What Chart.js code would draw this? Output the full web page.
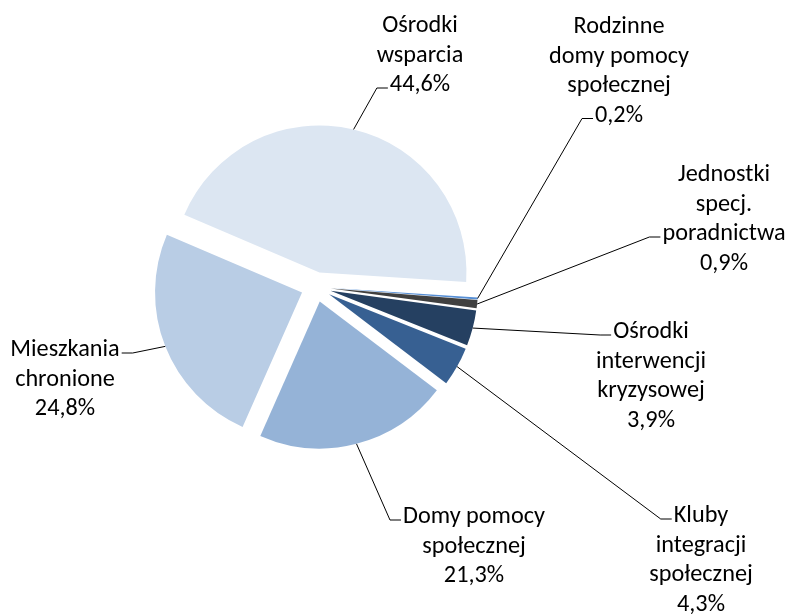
<!DOCTYPE html>
<html><head><meta charset="utf-8">
<script src="https://cdn.jsdelivr.net/npm/chart.js@4"></script>
<style>html,body{margin:0;padding:0;background:#fff;} canvas{display:block;}</style>
</head><body>
<canvas id="c" width="788" height="614"></canvas>
<script>
// ---- data ----
const categories = [
  ['Rodzinne', 'domy pomocy', 'społecznej'],
  ['Jednostki', 'specj.', 'poradnictwa'],
  ['Ośrodki', 'interwencji', 'kryzysowej'],
  ['Kluby', 'integracji', 'społecznej'],
  ['Domy pomocy', 'społecznej'],
  ['Mieszkania', 'chronione'],
  ['Ośrodki', 'wsparcia']
];
const shares = [0.2, 0.9, 3.9, 4.3, 21.3, 24.8, 44.6];
const colors = ['#558ED5', '#404040', '#254061', '#376092', '#95B3D7', '#B9CDE5', '#DCE6F2'];

// ---- layout (label blocks: centre x, first baseline, line the leader attaches to, side) ----
const labelLayout = [
  {cx: 619, by: 33,  attach: 3, side: 'left'},
  {cx: 724, by: 181, attach: 2, side: 'left'},
  {cx: 651, by: 338, attach: 0, side: 'left'},
  {cx: 701, by: 522, attach: 0, side: 'left'},
  {cx: 474, by: 523, attach: 0, side: 'left'},
  {cx: 65,  by: 356, attach: 0, side: 'right'},
  {cx: 420, by: 32,  attach: 2, side: 'left'}
];
const EXPLODE = 15;
const LINE_H = 29.5;
const ELBOW = 11;
const FAMILY = "Carlito, Calibri, Lato, 'Open Sans', sans-serif";
const mctx = document.createElement('canvas').getContext('2d');
mctx.font = '24px ' + FAMILY;
const FONT_SIZE = 24 * 142 / mctx.measureText('Domy pomocy').width;
const FONT = FONT_SIZE.toFixed(2) + 'px ' + FAMILY;

const fmt = v => v.toFixed(1).replace('.', ',') + '%';

function shiftArcs(chart, dir) {
  chart.getDatasetMeta(0).data.forEach(arc => {
    const mid = (arc.startAngle + arc.endAngle) / 2;
    arc.x += dir * Math.cos(mid) * EXPLODE;
    arc.y += dir * Math.sin(mid) * EXPLODE;
  });
}

const explodeAndLabel = {
  id: 'explodeAndLabel',
  beforeDatasetsDraw(chart) { shiftArcs(chart, 1); },
  afterDatasetsDraw(chart) {
    const ctx = chart.ctx;
    const meta = chart.getDatasetMeta(0);
    ctx.save();
    ctx.font = FONT;
    ctx.fillStyle = '#000';
    ctx.strokeStyle = '#000';
    ctx.lineWidth = 1;
    ctx.textAlign = 'center';
    ctx.textBaseline = 'alphabetic';
    meta.data.forEach((arc, i) => {
      const lines = categories[i].concat([fmt(shares[i])]);
      const L = labelLayout[i];
      lines.forEach((t, k) => ctx.fillText(t, L.cx, L.by + k * LINE_H));
      const mid = (arc.startAngle + arc.endAngle) / 2;
      const sx = arc.x + Math.cos(mid) * arc.outerRadius;
      const sy = arc.y + Math.sin(mid) * arc.outerRadius;
      const w = ctx.measureText(lines[L.attach]).width;
      const ey = L.by + L.attach * LINE_H - 3;
      const ex = L.side === 'left' ? L.cx - w / 2 - 2 : L.cx + w / 2 + 2;
      const bx = L.side === 'left' ? ex - ELBOW : ex + ELBOW;
      ctx.beginPath();
      ctx.moveTo(sx, sy);
      ctx.lineTo(bx, ey);
      ctx.lineTo(ex, ey);
      ctx.stroke();
    });
    ctx.restore();
    shiftArcs(chart, -1);
  }
};

new Chart(document.getElementById('c'), {
  type: 'pie',
  data: {
    labels: categories,
    datasets: [{data: shares, backgroundColor: colors, borderWidth: 0}]
  },
  options: {
    responsive: false,
    animation: false,
    rotation: 93.7,
    radius: 147,
    layout: {padding: {left: 0, right: 156, top: 0, bottom: 40}},
    plugins: {legend: {display: false}, tooltip: {enabled: false}},
    events: []
  },
  plugins: [explodeAndLabel]
});
</script>
</body></html>
